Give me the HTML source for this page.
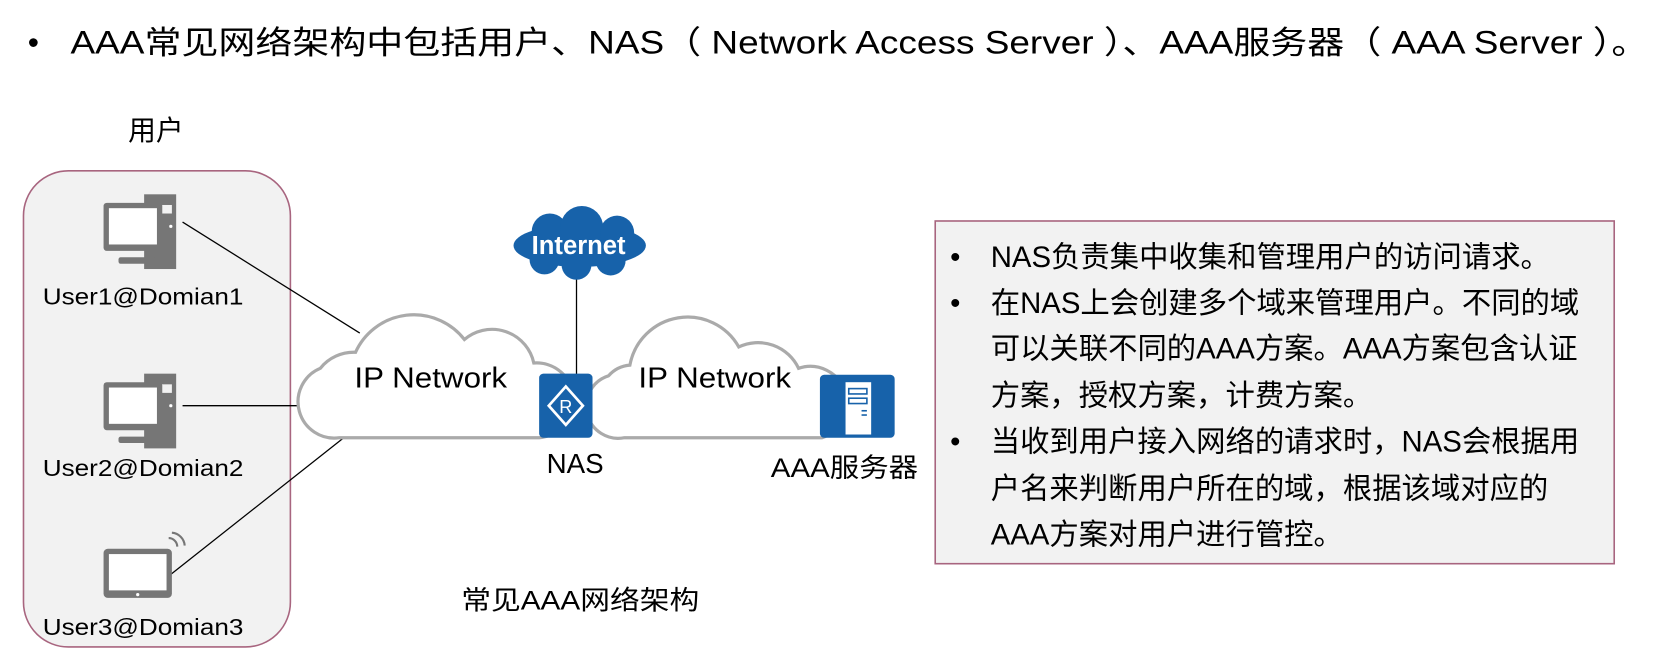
<!DOCTYPE html>
<html><head><meta charset="utf-8"><style>
body{margin:0;width:1674px;height:660px;background:#fff;overflow:hidden;font-family:"Liberation Sans","Noto Sans CJK SC",sans-serif;}
svg text{font-family:"Liberation Sans","Noto Sans CJK SC",sans-serif;}
</style></head><body>
<svg width="1674" height="660" viewBox="0 0 1674 660">
<g transform="scale(1.0676)">
<text x="26" y="50" font-size="30" fill="#000">•</text>
<text x="66" y="50" font-size="30" fill="#000" textLength="1478" lengthAdjust="spacingAndGlyphs">AAA常见网络架构中包括用户、NAS（ Network Access Server ）、AAA服务器（ AAA Server ）。</text>
<text x="120" y="131" font-size="26">用户</text>
<rect x="22" y="160" width="250" height="446" rx="42" fill="#f2f2f2" stroke="#a8657f" stroke-width="1.5"/>
<line x1="171" y1="208" x2="337" y2="312" stroke="#000" stroke-width="1.2"/>
<line x1="171" y1="380" x2="292" y2="380" stroke="#000" stroke-width="1.2"/>
<line x1="160" y1="538" x2="322" y2="410" stroke="#000" stroke-width="1.2"/>
<line x1="540" y1="255" x2="540" y2="352" stroke="#000" stroke-width="1.2"/>
<g transform="translate(97,182)">
<rect x="38" y="0" width="30" height="70" fill="#767676"/>
<rect x="44" y="10" width="20" height="8" fill="#f2f2f2"/>
<rect x="0" y="8" width="55" height="45" rx="3" fill="#767676"/>
<rect x="5" y="13" width="45" height="34" fill="#fff"/>
<rect x="14" y="59" width="35" height="6" rx="2" fill="#767676"/>
<circle cx="63" cy="30" r="1.5" fill="#fff"/>
</g>
<g transform="translate(97,350)">
<rect x="38" y="0" width="30" height="70" fill="#767676"/>
<rect x="44" y="10" width="20" height="8" fill="#f2f2f2"/>
<rect x="0" y="8" width="55" height="45" rx="3" fill="#767676"/>
<rect x="5" y="13" width="45" height="34" fill="#fff"/>
<rect x="14" y="59" width="35" height="6" rx="2" fill="#767676"/>
<circle cx="63" cy="30" r="1.5" fill="#fff"/>
</g>
<rect x="97" y="514" width="64" height="46" rx="4" fill="#767676"/>
<rect x="102" y="519" width="54" height="34" fill="#fff"/>
<circle cx="129" cy="557" r="1.5" fill="#fff"/>
<path d="M158,504 a8,8 0 0 1 8,8 M161,499 a13,13 0 0 1 12,12" stroke="#767676" stroke-width="2" fill="none"/>
<text x="40" y="285" font-size="22" textLength="188" lengthAdjust="spacingAndGlyphs">User1@Domian1</text>
<text x="40" y="446" font-size="22" textLength="188" lengthAdjust="spacingAndGlyphs">User2@Domian2</text>
<text x="40" y="595" font-size="22" textLength="188" lengthAdjust="spacingAndGlyphs">User3@Domian3</text>
<path d="M318,410 A34,34 0 0 1 300,345 A40,40 0 0 1 333,330 A60,60 0 0 1 435,318 A40,40 0 0 1 500,340 A30,30 0 0 1 505,410 Z" fill="#fff" stroke="#aaa" stroke-width="3"/>
<path d="M585,410 A30,30 0 0 1 570,352 A30,30 0 0 1 590,342 A55,55 0 0 1 692,325 A42,42 0 0 1 748,345 A30,30 0 0 1 770,410 Z" fill="#fff" stroke="#aaa" stroke-width="3"/>
<text x="332" y="363" font-size="27" textLength="143" lengthAdjust="spacingAndGlyphs">IP Network</text>
<text x="598" y="363" font-size="27" textLength="143" lengthAdjust="spacingAndGlyphs">IP Network</text>
<g fill="#1762aa">
<ellipse cx="543" cy="230" rx="62" ry="20"/>
<circle cx="515" cy="217" r="17"/>
<circle cx="545" cy="213" r="20"/>
<circle cx="578" cy="218" r="16"/>
<circle cx="510" cy="243" r="14"/>
<circle cx="540" cy="248" r="14"/>
<circle cx="572" cy="244" r="14"/>
</g>
<text x="542" y="238" font-size="24" font-weight="bold" fill="#fff" text-anchor="middle">Internet</text>
<rect x="505" y="350" width="50" height="60" rx="4" fill="#1762aa"/>
<path d="M530,362 L546,380 L530,398 L514,380 Z" fill="none" stroke="#fff" stroke-width="2.5"/>
<text x="530" y="387" font-size="17" fill="#fff" text-anchor="middle">R</text>
<text x="512" y="443" font-size="26">NAS</text>
<rect x="768" y="351" width="70" height="59" rx="4" fill="#1762aa"/>
<rect x="792" y="358" width="24" height="49" fill="#fff"/>
<rect x="795" y="364" width="17" height="5" fill="none" stroke="#1762aa" stroke-width="1.5"/>
<rect x="795" y="373" width="17" height="5" fill="none" stroke="#1762aa" stroke-width="1.5"/>
<rect x="807" y="384" width="5" height="1.5" fill="#1762aa"/><rect x="807" y="388" width="5" height="1.5" fill="#1762aa"/>
<text x="722" y="447" font-size="25" textLength="138" lengthAdjust="spacingAndGlyphs">AAA服务器</text>
<text x="432" y="571" font-size="25" textLength="223" lengthAdjust="spacingAndGlyphs">常见AAA网络架构</text>
<rect x="876" y="207" width="636" height="321" fill="#f2f2f2" stroke="#a8657f" stroke-width="1.5"/>
<g font-size="27.5">
<text x="890" y="250">•</text><text x="928" y="250">NAS负责集中收集和管理用户的访问请求。</text>
<text x="890" y="293">•</text><text x="928" y="293">在NAS上会创建多个域来管理用户。不同的域</text>
<text x="928" y="336">可以关联不同的AAA方案。AAA方案包含认证</text>
<text x="928" y="380">方案，授权方案，计费方案。</text>
<text x="890" y="423">•</text><text x="928" y="423">当收到用户接入网络的请求时，NAS会根据用</text>
<text x="928" y="467">户名来判断用户所在的域，根据该域对应的</text>
<text x="928" y="510">AAA方案对用户进行管控。</text>
</g>
</g>
</svg>
</body></html>
